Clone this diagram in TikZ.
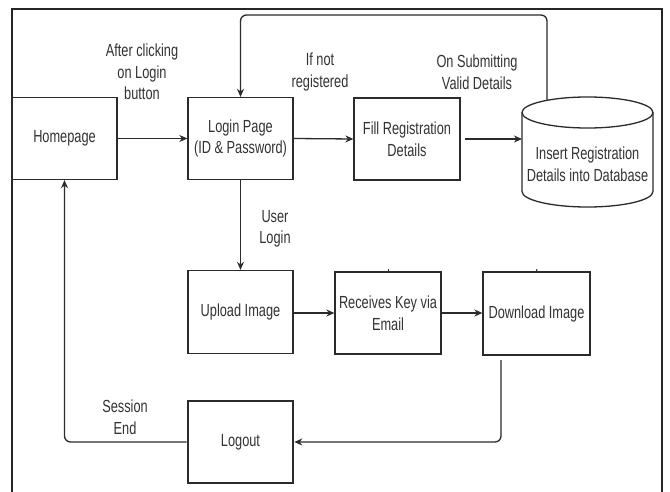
\documentclass[tikz,border=0pt]{standalone}
\usepackage{fontspec}
\setmainfont[FakeStretch=0.73]{Liberation Sans}
\usetikzlibrary{arrows.meta,calc}
\definecolor{ink}{HTML}{333333}
\definecolor{edge}{HTML}{2B2B2B}
\tikzset{
  box/.style={draw=edge,line width=1.3pt,minimum width=105pt,minimum height=82pt,inner sep=0pt,align=center,text=ink,font=\fontsize{17.5}{21.5}\selectfont},
  thickbox/.style={box,line width=2.6pt},
  lbl/.style={align=center,text=ink,inner sep=0pt,font=\fontsize{17.5}{21.5}\selectfont},
  arr/.style={draw=edge,line width=1.3pt,-{Stealth[length=8pt,width=7pt]}},
  wire/.style={draw=edge,line width=1.3pt},
  frame/.style={draw=black!85,line width=1.3pt}
}
\begin{document}
\begin{tikzpicture}[x=1pt,y=-1pt]
\useasboundingbox (0,0) rectangle (670,492);
\fill[white] (0,0) rectangle (670,492);
\draw[frame] (12,500) -- (12,9) -- (662,9) -- (662,500);

% nodes
\node[box] (home) at (64.5,138.5) {Homepage};
\node[box] (login) at (240.5,138.5) {Login Page\\(ID \& Password)};
\node[box,minimum width=106pt] (fill) at (407,139) {Fill Registration\\Details};
\node[box,minimum height=83pt] (upload) at (240.5,312) {Upload Image};
\node[box,minimum width=106pt] (recv) at (388,313) {Receives Key via\\Email};
\node[box,minimum width=107pt,minimum height=83pt] (down) at (536.5,313.5) {Download Image};
\node[thickbox] (logout) at (240.5,442) {Logout};

% database cylinder
\draw[wire,fill=white] (522,112.5) -- (522,191.5) arc[start angle=180,end angle=0,x radius=65.5,y radius=15.5] -- (653,112.5);
\draw[wire] (587.5,112.5) ellipse [x radius=65.5,y radius=15.5];
\node[lbl] (db) at (587.5,164) {Insert Registration\\Details into Database};
\coordinate (dbw) at (522,139);
\coordinate (dbt) at (547,100.5);
\coordinate (topy) at (0,15);
\coordinate (ret) at (501,360);

% small ticks
\draw[wire,line width=1pt] (388,269) -- (recv.north);
\draw[wire,line width=1pt] (537,269) -- (down.north);

% connectors
\draw[arr] (home.east) -- (login.west);
\draw[arr] (login.east) -- (fill.west);
\draw[arr] ([xshift=4pt]fill.east) -- (dbw);
\draw[arr,rounded corners=6pt] (dbt) |- (topy -| login.north) -- (login.north);
\draw[arr] (login.south) -- (upload.north);
\draw[arr] (upload.east |- recv.west) -- (recv.west);
\draw[arr] (recv.east) -- (down.west |- recv.east);
\draw[arr,rounded corners=6pt] (ret) |- (logout.east);
\draw[arr,rounded corners=6pt] (logout.west) -| (home.south);

% labels
\node[lbl] (l1) at (142,72) {After clicking\\on Login\\button};
\node[lbl] (l2) at (320,72) {If not\\registered};
\node[lbl] (l3) at (477,72) {On Submitting\\Valid Details};
\node[lbl] (l4) at (275,229) {User\\Login};
\node[lbl] (l5) at (125,417) {Session\\End};
\end{tikzpicture}
\end{document}
